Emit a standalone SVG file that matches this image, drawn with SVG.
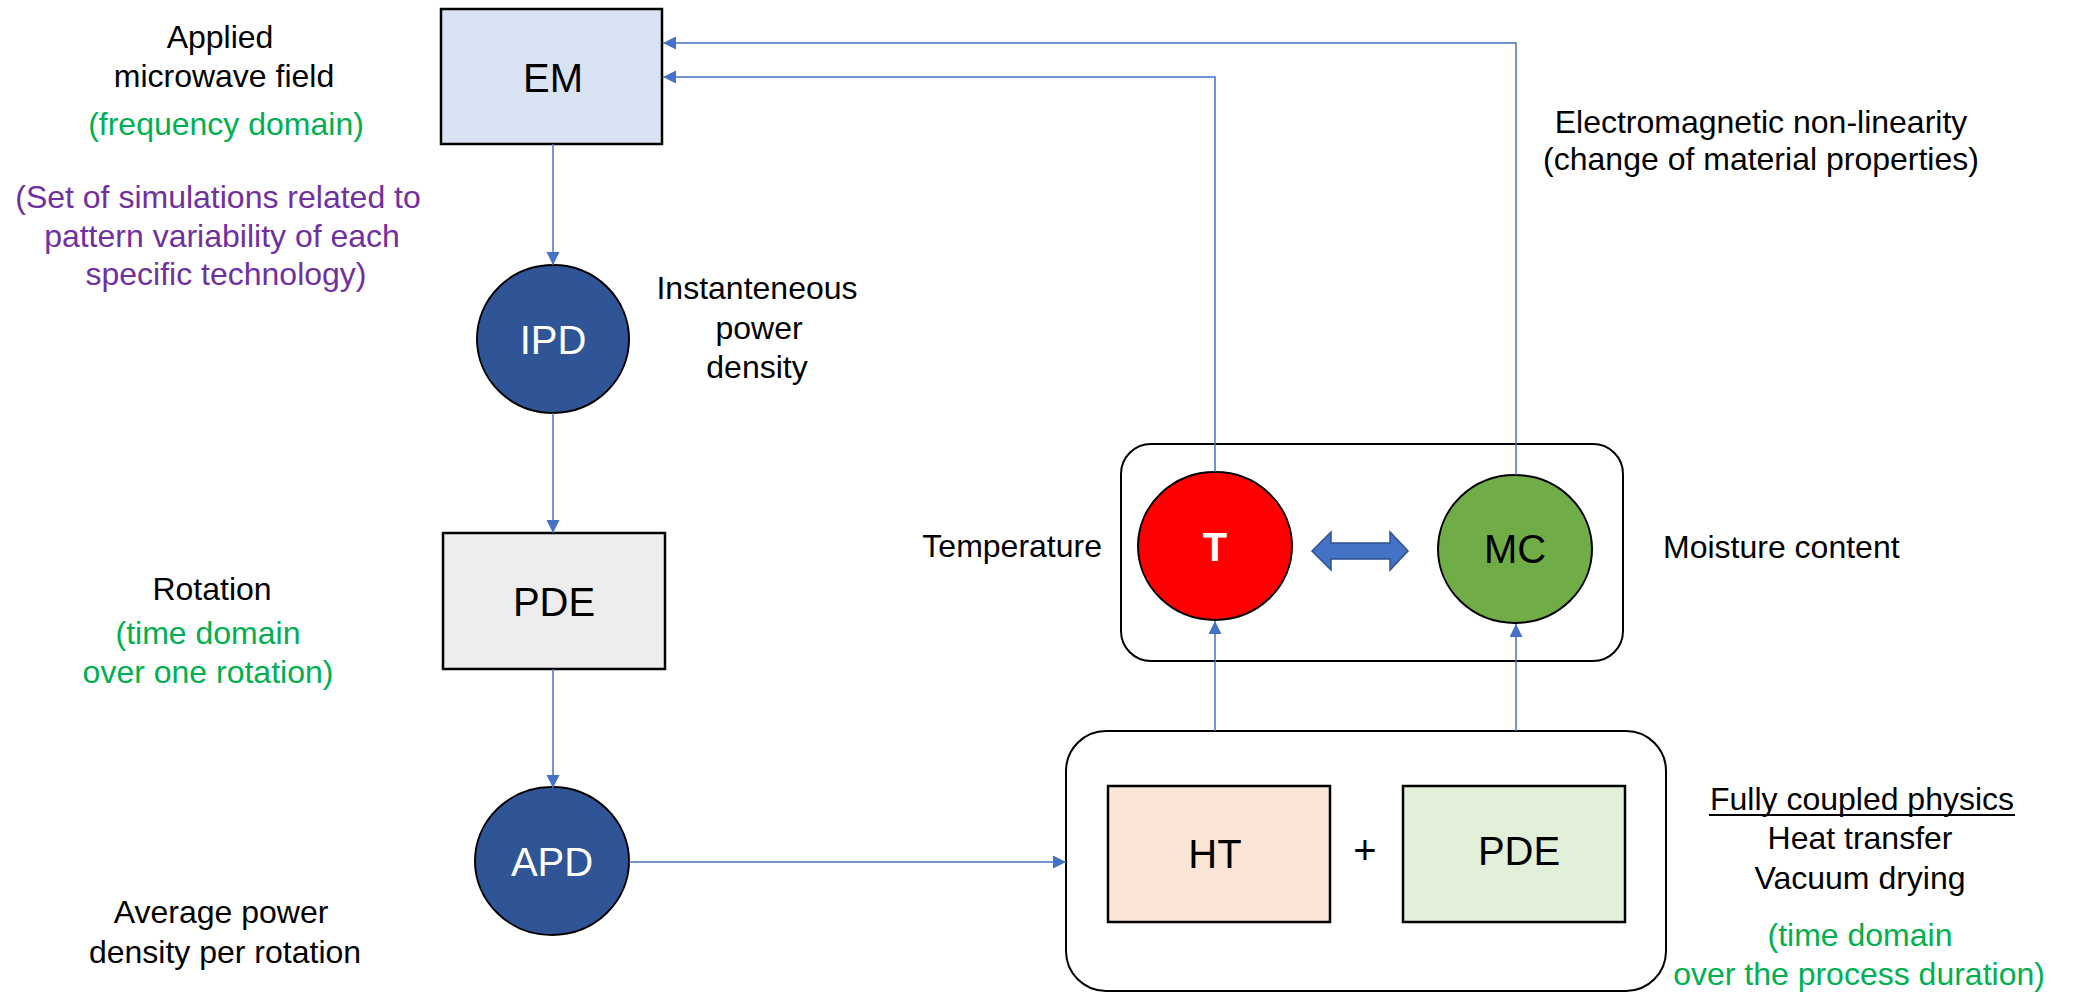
<svg xmlns="http://www.w3.org/2000/svg" width="2074" height="994" viewBox="0 0 2074 994">
  <style>
    text { font-family: "Liberation Sans", Arial, sans-serif; text-anchor: middle; }
    .lbl { font-size: 32px; fill: #000; }
    .grn { font-size: 32px; fill: #00b050; }
    .pur { font-size: 32px; fill: #7030a0; }
    .node { font-size: 40px; fill: #000; }
    .wnode { font-size: 40px; fill: #fff; }
    .box { stroke: #000; stroke-width: 2.5; }
    .disk { stroke: #000; stroke-width: 2; }
    .group { fill: #fff; stroke: #000; stroke-width: 2; }
    .conn { fill: none; stroke: #4472c4; stroke-width: 1.5; }
  </style>
  <defs>
    <marker id="arrow" markerUnits="userSpaceOnUse" markerWidth="15" markerHeight="15" refX="13" refY="6.5" orient="auto">
      <path d="M0,0 L13,6.5 L0,13 Z" fill="#4472c4"/>
    </marker>
  </defs>

  <rect width="2074" height="994" fill="#fff"/>

  <!-- side annotations -->
  <g id="annotations">
    <text class="lbl" x="220" y="48">Applied</text>
    <text class="lbl" x="224" y="87">microwave field</text>
    <text class="grn" x="226" y="135">(frequency domain)</text>
    <text class="pur" x="218" y="208">(Set of simulations related to</text>
    <text class="pur" x="222" y="247">pattern variability of each</text>
    <text class="pur" x="226" y="285">specific technology)</text>

    <text class="lbl" x="757" y="299">Instanteneous</text>
    <text class="lbl" x="759" y="339">power</text>
    <text class="lbl" x="757" y="378">density</text>

    <text class="lbl" x="212" y="600">Rotation</text>
    <text class="grn" x="208" y="644">(time domain</text>
    <text class="grn" x="208" y="683">over one rotation)</text>

    <text class="lbl" x="221" y="923">Average power</text>
    <text class="lbl" x="225" y="963">density per rotation</text>

    <text class="lbl" x="1761" y="133">Electromagnetic non-linearity</text>
    <text class="lbl" x="1761" y="170">(change of material properties)</text>

    <text class="lbl" x="1102" y="557" style="text-anchor:end">Temperature</text>
    <text class="lbl" x="1663" y="558" style="text-anchor:start">Moisture content</text>

    <text class="lbl" x="1862" y="810">Fully coupled physics</text>
    <line x1="1709" y1="815" x2="2015" y2="815" stroke="#000" stroke-width="2"/>
    <text class="lbl" x="1860" y="849">Heat transfer</text>
    <text class="lbl" x="1860" y="889">Vacuum drying</text>
    <text class="grn" x="1860" y="946">(time domain</text>
    <text class="grn" x="1859" y="985">over the process duration)</text>
  </g>

  <g id="EM">
    <rect class="box" x="441" y="9" width="221" height="135" fill="#dae3f3"/>
    <text class="node" x="553" y="92">EM</text>
  </g>

  <g id="IPD">
    <ellipse class="disk" cx="553" cy="339" rx="76" ry="74" fill="#2f5597"/>
    <text class="wnode" x="553" y="354">IPD</text>
  </g>

  <g id="PDE-rotation">
    <rect class="box" x="443" y="533" width="222" height="136" fill="#ededed"/>
    <text class="node" x="554" y="616">PDE</text>
  </g>

  <g id="APD">
    <ellipse class="disk" cx="552" cy="861" rx="77" ry="74" fill="#2f5597"/>
    <text class="wnode" x="552" y="876">APD</text>
  </g>

  <g id="state-variables">
    <rect class="group" x="1121" y="444" width="502" height="217" rx="30" ry="30"/>
    <g id="T">
      <ellipse class="disk" cx="1215" cy="546" rx="77" ry="74" fill="#ff0000"/>
      <text class="wnode" x="1215" y="561" style="font-weight:bold">T</text>
    </g>
    <g id="MC">
      <ellipse class="disk" cx="1515" cy="549" rx="77" ry="74" fill="#70ad47"/>
      <text class="node" x="1515" y="563">MC</text>
    </g>
    <polygon id="coupling" points="1312,551 1331,532 1331,543 1390,543 1390,532 1408,551 1390,570 1390,559 1331,559 1331,570" fill="#4472c4" stroke="#2f528f" stroke-width="1.5"/>
  </g>

  <g id="coupled-physics">
    <rect class="group" x="1066" y="731" width="600" height="260" rx="40" ry="40"/>
    <g id="HT">
      <rect class="box" x="1108" y="786" width="222" height="136" fill="#fbe5d6"/>
      <text class="node" x="1215" y="868">HT</text>
    </g>
    <text class="node" x="1365" y="864">+</text>
    <g id="PDE-drying">
      <rect class="box" x="1403" y="786" width="222" height="136" fill="#e2f0d9"/>
      <text class="node" x="1519" y="865">PDE</text>
    </g>
  </g>

  <!-- connectors, drawn over the containers -->
  <g id="connectors">
    <line class="conn" x1="553" y1="144" x2="553" y2="265" marker-end="url(#arrow)"/>
    <line class="conn" x1="553" y1="413" x2="553" y2="533" marker-end="url(#arrow)"/>
    <line class="conn" x1="553" y1="669" x2="553" y2="788" marker-end="url(#arrow)"/>
    <line class="conn" x1="629" y1="862" x2="1066" y2="862" marker-end="url(#arrow)"/>
    <line class="conn" x1="1215" y1="731" x2="1215" y2="621" marker-end="url(#arrow)"/>
    <line class="conn" x1="1516" y1="731" x2="1516" y2="624" marker-end="url(#arrow)"/>
    <path class="conn" d="M1215,472 V77 H663" marker-end="url(#arrow)"/>
    <path class="conn" d="M1516,475 V43 H663" marker-end="url(#arrow)"/>
  </g>
</svg>
